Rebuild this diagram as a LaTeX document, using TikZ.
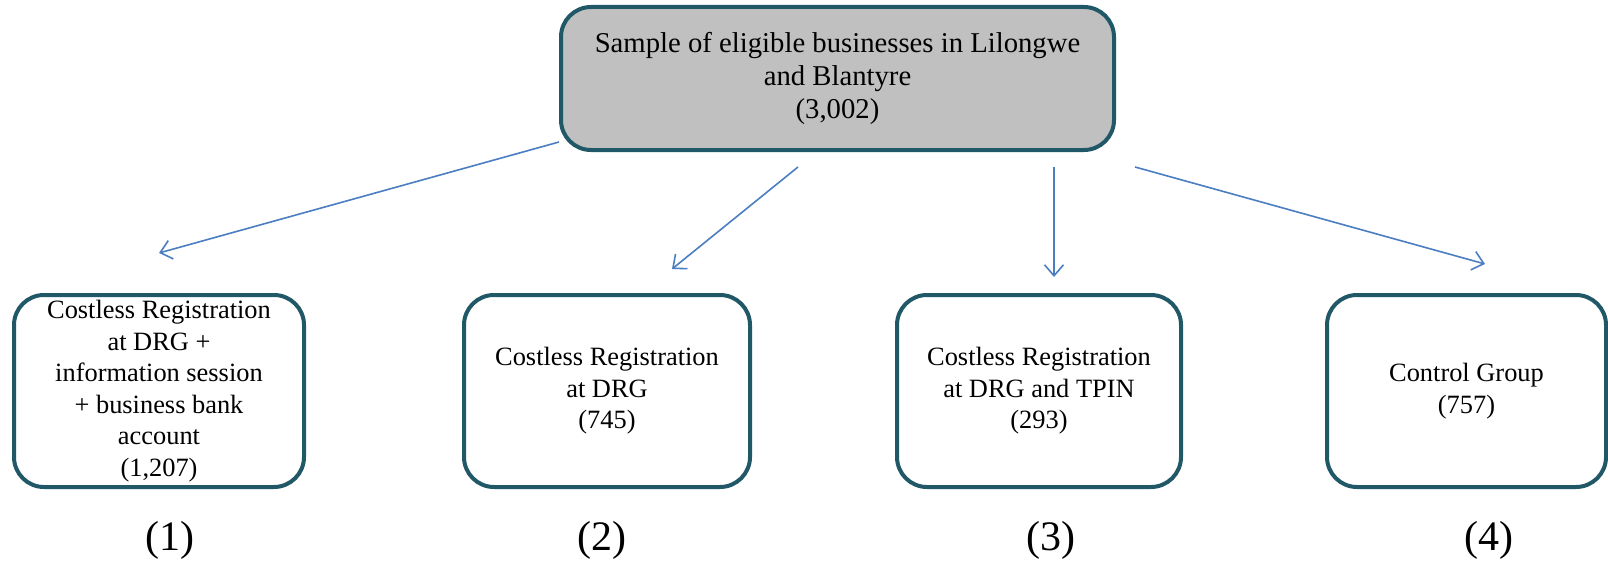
\documentclass[tikz,border=0pt]{standalone}
\usepackage{fontspec}
\setmainfont{Liberation Serif}
\usepackage{tikz}
\usetikzlibrary{arrows.meta, positioning}
\usepackage{xcolor}
\definecolor{boxline}{RGB}{33,88,104}
\definecolor{boxgray}{RGB}{192,192,192}
\definecolor{arrowblue}{RGB}{74,126,193}

\begin{document}
\begin{tikzpicture}
		[   x=1pt,y=-1pt,
		    gbox/.style={draw=boxline,line width=4pt,fill=#1,rounded corners=30pt,align=center,inner sep=0pt},
		    num/.style={font=\fontsize{42}{48}\selectfont},
		]
		\tikzset{normal arrow/.style={draw=arrowblue,line width=1.6pt,-{Straight Barb[length=11pt,width=19pt,line width=1.6pt]}}}
		\useasboundingbox (0,0) rectangle (1608,567);
		
		\node[gbox=boxgray,minimum width=553pt,minimum height=143pt,font=\fontsize{28.7}{33}\selectfont] (top) at (837.5,78.5) {Sample of eligible businesses in Lilongwe\\and Blantyre\\(3,002)};
		
		\node[gbox=white,minimum width=290pt,minimum height=192pt,font=\fontsize{26.4}{31.5}\selectfont] (g-1) at (159,391) {Costless Registration\\at DRG +\\information session\\+ business bank\\account\\(1,207)};
		\node[gbox=white,minimum width=286pt,minimum height=192pt,font=\fontsize{26.4}{31.5}\selectfont] (g-2) at (607,391) {Costless Registration\\at DRG\\(745)};
		\node[gbox=white,minimum width=284pt,minimum height=192pt,font=\fontsize{26.4}{31.5}\selectfont] (g-3) at (1039,391) {Costless Registration\\at DRG and TPIN\\(293)};
		\node[gbox=white,minimum width=279pt,minimum height=192pt,font=\fontsize{26.4}{31.5}\selectfont] (g-4) at (1466.5,391) {Control Group\\(757)};
		
		\node[num] (n-1) at (170,540) {(1)};
		\node[num] (n-2) at (602,540) {(2)};
		\node[num] (n-3) at (1051,540) {(3)};
		\node[num] (n-4) at (1489,540) {(4)};
		
		% arrow ends
		\coordinate (s-1) at (559,142);
		\coordinate (s-2) at (798,167);
		\coordinate (s-3) at (1054,167);
		\coordinate (s-4) at (1135,167);
		\coordinate (e-1) at (159,253);
		\coordinate (e-2) at (672,269);
		\coordinate (e-3) at (1054,277);
		\coordinate (e-4) at (1485,264);
		
		\foreach \x in {1,...,4}
		{
			\path[normal arrow] (s-\x) -- (e-\x);
		}
		\end{tikzpicture}
\end{document}
